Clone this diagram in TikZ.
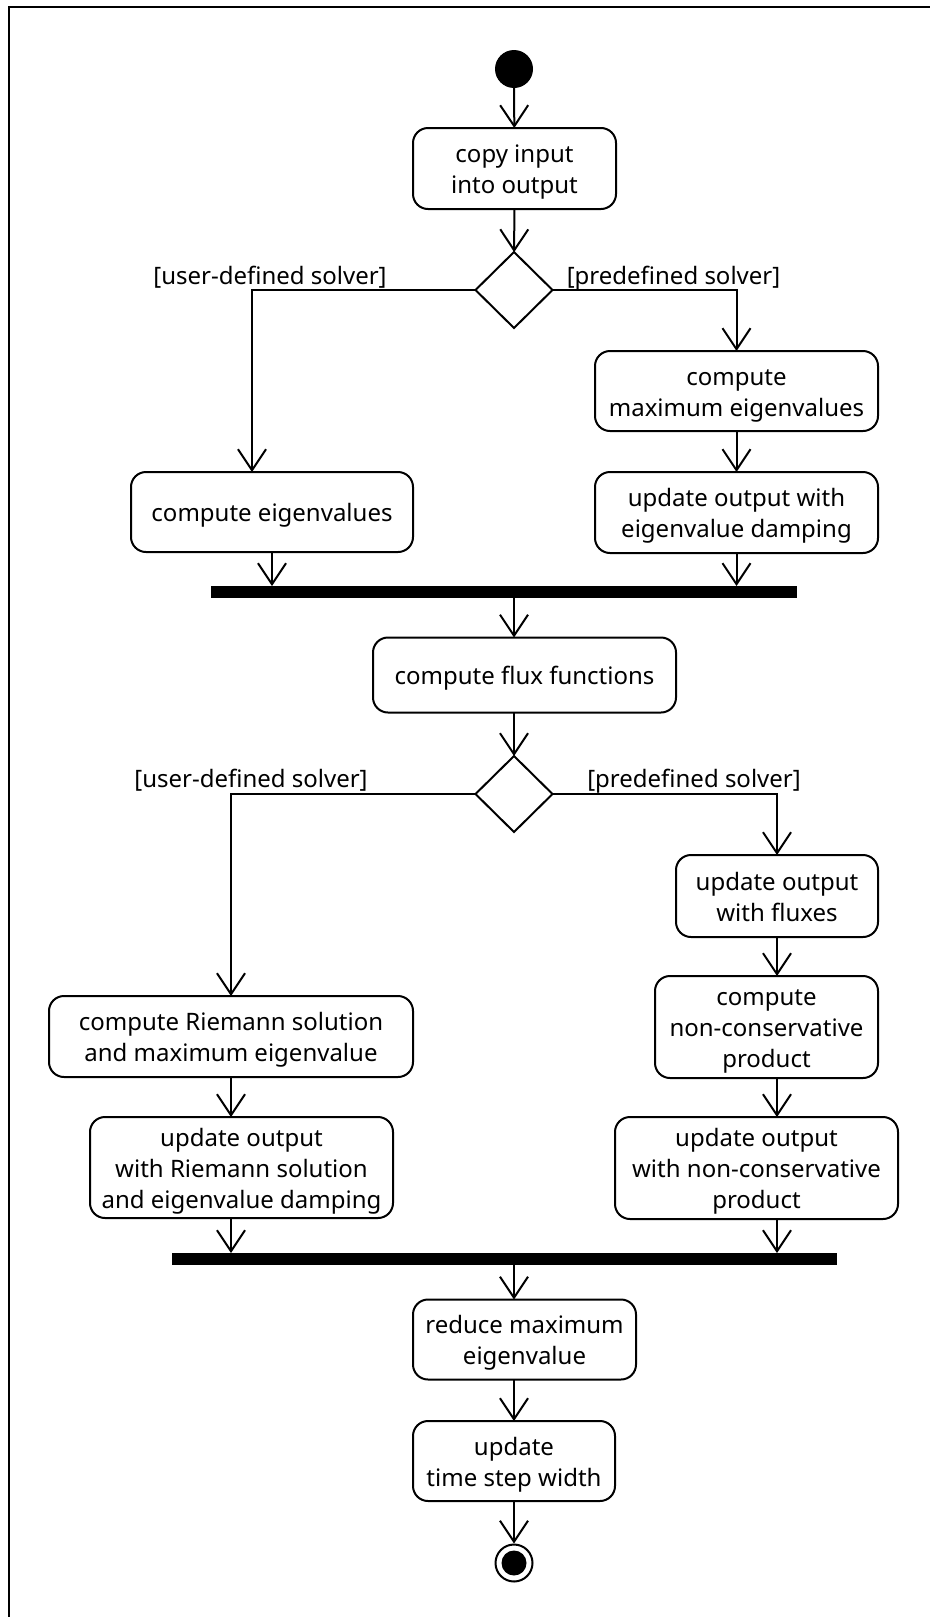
\documentclass[tikz,border=0pt]{standalone}
\usepackage{fontspec}
\setmainfont{Noto Sans}
\usetikzlibrary{arrows.meta,shapes.geometric,calc}
\newcommand{\topst}{\rule{0pt}{25pt}}
\newcommand{\botst}{\rule[-6pt]{0pt}{6pt}}
\begin{document}
\begin{tikzpicture}[x=1pt,y=-1pt,
  every node/.style={font=\fontsize{24}{31}\selectfont},
  act/.style={draw, line width=2pt, rounded corners=15pt, align=center, inner sep=0pt, outer sep=0pt},
  dec/.style={draw, diamond, line width=2pt, minimum width=77pt, minimum height=76pt, inner sep=0pt, outer sep=0pt},
  bar/.style={fill=black, inner sep=0pt, outer sep=0pt, minimum height=12pt},
  guard/.style={inner sep=0pt, anchor=base},
  flow/.style={line width=2pt, -{Straight Barb[length=21pt,width=28pt]}},
]
\useasboundingbox (0,0) rectangle (930,1617);
\draw[line width=2pt] (9,1617) -- (9,7) -- (930,7);

\node[fill, circle, minimum size=38pt, inner sep=0pt] (start) at (514,69) {};
\node[act, minimum width=203pt, minimum height=81pt] (copy) at (514.5,168.5) {\topst copy input\\into output\botst};
\node[dec] (d1) at (514,290) {};
\node[act, minimum width=282pt, minimum height=80pt] (eig) at (272,512) {\topst compute eigenvalues\botst};
\node[act, minimum width=283pt, minimum height=80pt] (maxeig) at (736.5,391) {\topst compute\\maximum eigenvalues\botst};
\node[act, minimum width=283pt, minimum height=81pt] (upd1) at (736.5,512.5) {\topst update output with\\eigenvalue damping\botst};
\node[bar, minimum width=586pt] (bar1) at (504,592) {};
\node[act, minimum width=303pt, minimum height=75pt] (flux) at (524.5,675) {\topst compute flux functions\botst};
\node[dec] (d2) at (514,794) {};
\node[act, minimum width=202pt, minimum height=82pt] (fluxupd) at (777,896) {\topst update output\\with fluxes\botst};
\node[act, minimum width=223pt, minimum height=102pt] (ncp) at (766.5,1027) {\topst compute\\non-conservative\\product\botst};
\node[act, minimum width=283pt, minimum height=102pt] (updncp) at (756.5,1168) {\topst update output\\with non-conservative\\product\botst};
\node[act, minimum width=364pt, minimum height=81pt] (riem) at (231,1036.5) {\topst compute Riemann solution\\and maximum eigenvalue\botst};
\node[act, minimum width=303pt, minimum height=101pt] (updriem) at (241.5,1167.5) {\topst update output\\with Riemann solution\\and eigenvalue damping\botst};
\node[bar, minimum width=665pt] (bar2) at (504.5,1259) {};
\node[act, minimum width=223pt, minimum height=80pt] (reduce) at (524.5,1339.5) {\topst reduce maximum\\eigenvalue\botst};
\node[act, minimum width=202pt, minimum height=80pt] (dt) at (514,1461) {\topst update\\time step width\botst};
\node[draw, circle, line width=2pt, minimum size=37pt, inner sep=0pt] (end) at (514,1563) {};
\node[fill, circle, minimum size=25pt, inner sep=0pt] (endin) at (514,1563) {};

\node[guard] (g1) at (270,284) {[user-defined solver]};
\node[guard] (g2) at (673.5,284) {[predefined solver]};
\node[guard] (g3) at (251,787) {[user-defined solver]};
\node[guard] (g4) at (694,787) {[predefined solver]};

\draw[flow] (start) -- (copy);
\draw[flow] (copy) -- (d1);
\draw[flow] (d1.west) -| ([xshift=-20pt]eig.north);
\draw[flow] (d1.east) -| (maxeig.north);
\draw[flow] (maxeig) -- (upd1);
\draw[flow] (eig) -- (eig |- bar1.north);
\draw[flow] (upd1) -- (upd1 |- bar1.north);
\draw[flow] (bar1.south -| start) -- (start |- flux.north);
\draw[flow] (flux.south -| start) -- (d2);
\draw[flow] (d2.west) -| (riem.north);
\draw[flow] (d2.east) -| (fluxupd.north);
\draw[flow] (fluxupd) -- (fluxupd |- ncp.north);
\draw[flow] (fluxupd |- ncp.south) -- (fluxupd |- updncp.north);
\draw[flow] (riem) -- (riem |- updriem.north);
\draw[flow] (riem |- updriem.south) -- (riem |- bar2.north);
\draw[flow] (fluxupd |- updncp.south) -- (fluxupd |- bar2.north);
\draw[flow] (bar2.south -| start) -- (start |- reduce.north);
\draw[flow] (reduce.south -| start) -- (dt);
\draw[flow] (dt) -- (end);
\end{tikzpicture}
\end{document}
